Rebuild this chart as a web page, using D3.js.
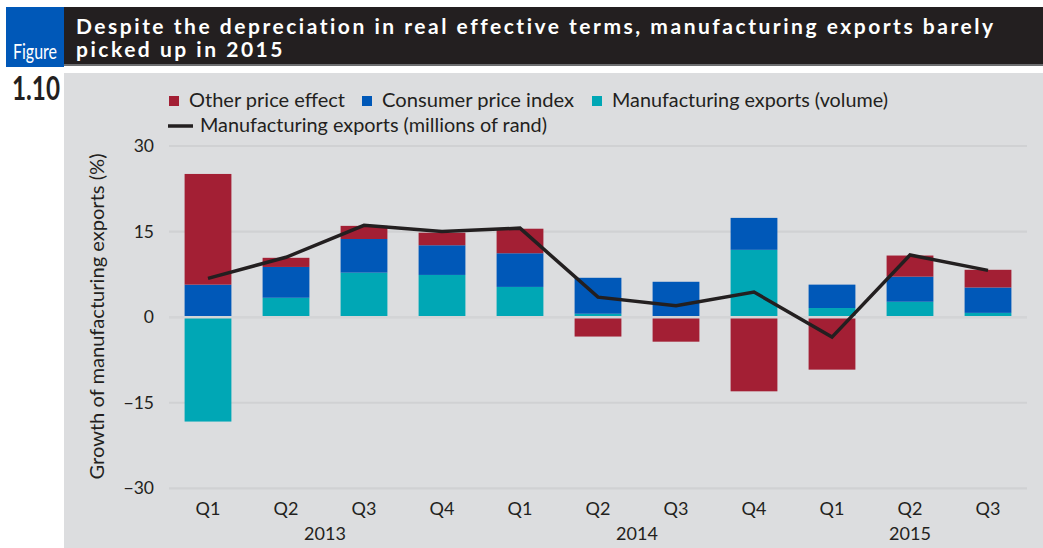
<!DOCTYPE html>
<html>
<head>
<meta charset="utf-8">
<script src="https://cdn.jsdelivr.net/npm/d3@7"></script>
<style>
  html, body { margin: 0; padding: 0; background: #ffffff; }
  svg { display: block; }
  text { font-family: Lato, "Open Sans", sans-serif; }
</style>
</head>
<body>
<svg id="chart" width="1043" height="548"></svg>
<script>
// ---- data ----
const quarters = ["Q1","Q2","Q3","Q4","Q1","Q2","Q3","Q4","Q1","Q2","Q3"];
const years = ["2013","2014","2015"];
const yearSpans = [[0,3],[4,7],[8,10]];
const volume = [-18.3, 3.4, 7.8, 7.4, 5.3, 0.6, 0.2, 11.8, 1.6, 2.7, 0.75];
const cpi    = [5.7, 5.4, 5.9, 5.2, 5.9, 6.3, 6.0, 5.6, 4.1, 4.4, 4.45];
const other  = [19.4, 1.6, 2.3, 2.2, 4.3, -3.4, -4.3, -13.0, -9.2, 3.7, 3.1];
const exportsRand = [6.8, 10.5, 16.1, 15.0, 15.6, 3.5, 2.0, 4.4, -3.5, 10.9, 8.2];
const yTicks = [-30, -15, 0, 15, 30];
const seriesNames = ["Other price effect", "Consumer price index", "Manufacturing exports (volume)"];
const lineName = "Manufacturing exports (millions of rand)";
const titleLines = ["Despite the depreciation in real effective terms, manufacturing exports barely", "picked up in 2015"];

const colors = { volume: "#00a7b5", cpi: "#0058b8", other: "#a31f34" };

const svg = d3.select("#chart");

// ---- header ----
svg.append("rect").attr("x", 6).attr("y", 7).attr("width", 58).attr("height", 60).attr("fill", "#0058b8");
svg.append("rect").attr("x", 64).attr("y", 7).attr("width", 979).attr("height", 57).attr("fill", "#231f20");
svg.append("rect").attr("x", 64).attr("y", 64).attr("width", 979).attr("height", 2).attr("fill", "#6d6e70");
svg.append("text").attr("x", 13).attr("y", 59).attr("fill", "#fff")
  .attr("font-size", 22).attr("textLength", 44).attr("lengthAdjust", "spacingAndGlyphs").text("Figure");
const t1 = svg.append("text").attr("x", 76).attr("y", 34).attr("fill", "#fff").attr("font-weight", "bold")
  .attr("font-size", 21).text(titleLines[0]);
const nat = t1.node().getComputedTextLength();
const ls = (917 - nat) / (titleLines[0].length - 1);
t1.attr("letter-spacing", ls);
svg.append("text").attr("x", 76).attr("y", 57).attr("fill", "#fff").attr("font-weight", "bold")
  .attr("font-size", 21).attr("letter-spacing", ls).text(titleLines[1]);

// ---- panel ----
svg.append("rect").attr("x", 64).attr("y", 73).attr("width", 979).attr("height", 475).attr("fill", "#dcdddf");
svg.append("text").attr("x", 12).attr("y", 100).attr("fill", "#231f20").attr("font-weight", "bold")
  .attr("font-size", 33).attr("textLength", 48).attr("lengthAdjust", "spacingAndGlyphs").text("1.10");

// ---- scales ----
const x = d3.scaleBand().domain(d3.range(quarters.length)).range([169, 1027]).paddingInner(0.4).paddingOuter(0.2);
const y = d3.scaleLinear().domain([-30, 30]).range([488.3, 146]);

// grid
svg.append("g").selectAll("line").data(yTicks).join("line")
  .attr("x1", 169).attr("x2", 1027).attr("y1", d => y(d)).attr("y2", d => y(d))
  .attr("stroke", "#d0d1d3").attr("stroke-width", 2.2);

// y axis
const yAxis = svg.append("g").attr("transform", "translate(169,0)")
  .call(d3.axisLeft(y).tickValues(yTicks).tickSize(0).tickPadding(15));
yAxis.select(".domain").remove();
yAxis.selectAll("text").attr("font-size", 17.5).attr("fill", "#231f20").attr("font-family", "Lato, sans-serif");

// x axis
const xAxis = svg.append("g").attr("transform", "translate(0,488.3)")
  .call(d3.axisBottom(x).tickFormat(i => quarters[i]).tickSize(0).tickPadding(14));
xAxis.select(".domain").remove();
xAxis.selectAll("text").attr("font-size", 18).attr("fill", "#231f20").attr("font-family", "Lato, sans-serif");

// years
svg.append("g").selectAll("text").data(years).join("text")
  .attr("x", (d, i) => (x(yearSpans[i][0]) + x(yearSpans[i][1]) + x.bandwidth()) / 2)
  .attr("y", 540).attr("text-anchor", "middle").attr("font-size", 18).attr("fill", "#231f20")
  .text(d => d);

// y title
svg.append("text").attr("transform", "translate(104,316.5) rotate(-90)")
  .attr("text-anchor", "middle").attr("font-size", 19.5).attr("fill", "#231f20")
  .attr("textLength", 326).attr("lengthAdjust", "spacingAndGlyphs")
  .text("Growth of manufacturing exports (%)");

// ---- stacked bars ----
const table = quarters.map((q, i) => ({ i, volume: volume[i], cpi: cpi[i], other: other[i] }));
const stack = d3.stack().keys(["volume", "cpi", "other"]).offset(d3.stackOffsetDiverging);
const stacked = stack(table);
svg.append("g").selectAll("g").data(stacked).join("g")
  .attr("fill", s => colors[s.key])
  .selectAll("rect").data(s => s).join("rect")
  .attr("x", d => x(d.data.i))
  .attr("width", x.bandwidth())
  .attr("y", d => y(Math.max(d[0], d[1])))
  .attr("height", d => Math.abs(y(d[0]) - y(d[1])));

// zero line over bars
svg.append("line").attr("x1", 169).attr("x2", 1027).attr("y1", y(0)).attr("y2", y(0))
  .attr("stroke", "#d3d4d6").attr("stroke-width", 2.5);

// ---- line ----
const line = d3.line().x((d, i) => x(i) + x.bandwidth() / 2).y(d => y(d));
svg.append("path").datum(exportsRand).attr("d", line)
  .attr("fill", "none").attr("stroke", "#231f20").attr("stroke-width", 3.5).attr("stroke-linejoin", "miter");

// ---- legend ----
const legend = svg.append("g");
const legItems = [
  { name: seriesNames[0], color: colors.other, x: 169, w: 156 },
  { name: seriesNames[1], color: colors.cpi, x: 362, w: 192 },
  { name: seriesNames[2], color: colors.volume, x: 592, w: 276 }
];
legItems.forEach(it => {
  legend.append("rect").attr("x", it.x).attr("y", 96).attr("width", 10).attr("height", 10).attr("fill", it.color);
  legend.append("text").attr("x", it.x + 20).attr("y", 107).attr("font-size", 19.5).attr("fill", "#231f20")
    .attr("textLength", it.w).attr("lengthAdjust", "spacingAndGlyphs").text(it.name);
});
legend.append("line").attr("x1", 168).attr("x2", 193).attr("y1", 126).attr("y2", 126)
  .attr("stroke", "#231f20").attr("stroke-width", 3.5);
legend.append("text").attr("x", 200).attr("y", 132).attr("font-size", 19.5).attr("fill", "#231f20")
  .attr("textLength", 347).attr("lengthAdjust", "spacingAndGlyphs").text(lineName);
</script>
</body>
</html>
